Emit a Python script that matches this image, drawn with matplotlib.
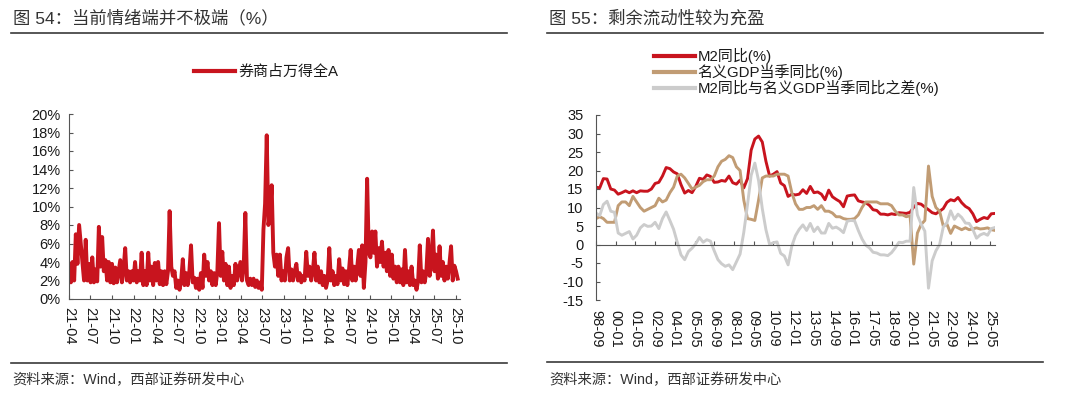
import matplotlib
matplotlib.use("Agg")
import matplotlib.pyplot as plt
import matplotlib.ticker as mticker
from matplotlib.lines import Line2D
import pandas as pd

plt.rcParams['font.family'] = ['Liberation Sans', 'Noto Sans CJK SC']
plt.rcParams['axes.unicode_minus'] = False

# ---------------- data: left chart (weekly, %) ----------------
left_title = "图 54：当前情绪端并不极端（%）"
left_series_name = "券商占万得全A"
left_start = "2021-04-02"
left_values = [
    3.8, 1.8, 4.0, 2.0, 7.0, 3.8, 8.0, 6.0, 4.0, 2.0,
    6.4, 2.0, 3.8, 1.8, 4.5, 1.8, 3.2, 1.9, 7.8, 3.5,
    6.7, 3.0, 4.2, 2.0, 4.0, 1.8, 3.8, 1.7, 3.4, 1.8,
    3.0, 4.2, 1.8, 3.2, 5.5, 2.0, 3.0, 1.8, 3.0, 2.0,
    4.0, 1.8, 3.0, 2.0, 5.0, 1.5, 3.0, 1.5, 5.0, 2.0,
    3.5, 1.5, 3.9, 2.0, 4.0, 1.6, 3.0, 1.5, 3.0, 1.6,
    3.0, 9.5, 3.5, 2.5, 3.0, 1.2, 2.0, 1.0, 2.0, 4.3,
    1.5, 2.8, 1.5, 3.0, 5.8, 1.8, 2.3, 1.2, 2.2, 1.0,
    2.8, 1.2, 4.8, 2.5, 4.0, 2.0, 3.0, 1.5, 2.8, 1.5,
    3.0, 8.2, 2.5, 5.1, 2.0, 3.8, 1.5, 3.5, 1.2, 2.5,
    1.5, 3.8, 2.0, 3.0, 4.0, 2.0, 3.5, 9.3, 2.0, 1.5,
    2.2, 1.5, 2.2, 1.3, 2.0, 1.2, 1.8, 1.0, 7.5, 10.3,
    17.7, 8.0, 9.0, 12.3, 5.0, 3.5, 4.8, 2.5, 4.8, 2.0,
    3.0, 2.0, 4.5, 5.5, 2.0, 3.2, 2.0, 3.0, 3.8, 2.0,
    2.8, 1.8, 2.5, 2.0, 5.1, 2.5, 3.5, 2.0, 3.0, 5.0,
    2.0, 3.5, 1.8, 3.0, 1.5, 2.5, 1.2, 2.0, 5.5, 2.0,
    3.0, 1.5, 2.5, 1.6, 4.3, 2.0, 3.3, 1.6, 3.0, 1.5,
    3.2, 5.3, 2.0, 3.5, 2.0, 3.5, 5.3, 2.5, 5.8, 1.2,
    4.0, 13.0, 5.0, 4.5, 7.3, 5.0, 7.3, 3.5, 5.5, 4.0,
    6.2, 3.5, 5.0, 3.0, 5.3, 2.5, 4.8, 2.2, 3.5, 1.8,
    3.5, 1.8, 3.2, 1.5, 5.3, 1.8, 3.0, 1.5, 3.5, 1.5,
    2.0, 1.0, 2.0, 5.8, 1.8, 3.0, 1.8, 3.0, 6.5, 2.5,
    4.0, 7.4, 3.0, 4.8, 2.2, 5.7, 2.5, 4.0, 2.0, 3.5,
    2.2, 3.8, 5.7, 2.0, 3.6, 3.0, 2.2,
]
left_xticklabels = ["21-04", "21-07", "21-10", "22-01", "22-04", "22-07", "22-10",
                    "23-01", "23-04", "23-07", "23-10", "24-01", "24-04", "24-07",
                    "24-10", "25-01", "25-04", "25-07", "25-10"]
left_yticks = [0, 2, 4, 6, 8, 10, 12, 14, 16, 18, 20]

# ---------------- data: right chart (quarterly, %) ----------------
right_title = "图 55：剩余流动性较为充盈"
right_names = ["M2同比(%)", "名义GDP当季同比(%)", "M2同比与名义GDP当季同比之差(%)"]
right_start = "1998-09-30"
m2_yoy = [
    15.5, 15.3, 17.8, 17.7, 15.0, 14.7, 13.6, 14.0, 14.5, 14.0,
    14.5, 14.0, 14.5, 14.4, 14.4, 15.0, 16.5, 16.8, 18.5, 20.8,
    20.5, 19.6, 19.1, 16.2, 13.9, 14.6, 14.0, 15.7, 17.9, 17.6,
    18.8, 18.4, 16.8, 16.9, 17.3, 17.1, 18.5, 16.7, 16.3, 17.4,
    15.3, 17.8, 25.5, 28.5, 29.3, 27.7, 22.5, 18.5, 19.0, 19.7,
    16.6, 15.9, 13.0, 13.6, 13.4, 13.6, 14.8, 13.8, 15.7, 14.0,
    14.2, 13.6, 12.1, 14.7, 12.9, 12.2, 11.6, 10.2, 13.1, 13.3,
    13.4, 11.8, 11.5, 11.3, 10.6, 9.4, 9.2, 8.2, 8.2, 8.0,
    8.3, 8.1, 8.6, 8.5, 8.4, 8.7, 10.1, 11.1, 10.9, 10.1,
    9.4, 8.6, 8.3, 9.0, 9.7, 11.4, 12.1, 11.8, 12.7, 11.3,
    10.3, 9.7, 8.3, 6.2, 6.8, 7.3, 7.0, 8.3, 8.4,
]
gdp_yoy = [
    7.0, 7.5, 7.0, 6.0, 6.0, 6.0, 10.5, 11.5, 11.5, 10.5,
    13.0, 11.5, 10.0, 9.0, 9.5, 10.0, 10.5, 12.5, 11.5, 12.0,
    14.0, 15.5, 18.5, 19.0, 18.0, 16.5, 15.0, 15.5, 16.0, 17.0,
    17.5, 17.5, 18.5, 21.0, 22.5, 23.0, 24.0, 23.5, 21.0, 20.0,
    12.0, 7.0, 6.8, 6.5, 12.0, 18.0, 18.5, 18.5, 18.5, 19.0,
    19.0, 19.0, 18.5, 14.0, 11.0, 9.5, 9.5, 10.0, 10.0, 10.5,
    9.5, 10.5, 9.0, 9.0, 8.5, 7.5, 7.5, 7.0, 6.8, 6.8,
    7.0, 8.0, 10.0, 11.5, 11.5, 11.5, 11.5, 11.0, 11.0, 11.0,
    10.5, 9.0, 8.0, 8.0, 7.5, 7.8, -5.3, 3.1, 5.4, 6.5,
    21.2, 13.0, 10.0, 9.0, 5.0, 5.5, 3.0, 5.0, 4.5, 4.0,
    4.5, 4.0, 4.2, 4.5, 4.2, 4.3, 4.5, 4.0, 3.8,
]
gap_yoy = [
    8.5, 7.8, 10.8, 11.7, 9.0, 8.7, 3.1, 2.5, 3.0, 3.5,
    1.5, 2.5, 4.5, 5.4, 4.9, 5.0, 6.0, 4.3, 7.0, 8.8,
    6.5, 4.1, 0.6, -2.8, -4.1, -1.9, -1.0, 0.2, 1.9, 0.6,
    1.3, 0.9, -1.7, -4.1, -5.2, -5.9, -5.5, -6.8, -4.7, -2.6,
    3.3, 10.8, 18.7, 22.0, 17.3, 9.7, 4.0, 0.0, 0.5, 0.7,
    -2.4, -3.1, -5.5, -0.4, 2.4, 4.1, 5.3, 3.8, 5.7, 3.5,
    4.7, 3.1, 3.1, 5.7, 4.4, 4.7, 4.1, 3.2, 6.3, 6.5,
    6.4, 3.8, 1.5, -0.2, -0.9, -2.1, -2.3, -2.8, -2.8, -3.0,
    -2.2, -0.9, 0.6, 0.5, 0.9, 0.9, 15.4, 8.0, 5.5, 3.6,
    -11.8, -4.4, -1.7, 0.0, 4.7, 5.9, 9.1, 6.8, 8.2, 7.3,
    5.8, 5.7, 4.1, 1.7, 2.6, 3.0, 2.5, 4.3, 4.6,
]
right_xticklabels = ["98-09", "00-01", "01-05", "02-09", "04-01", "05-05", "06-09",
                     "08-01", "09-05", "10-09", "12-01", "13-05", "14-09", "16-01",
                     "17-05", "18-09", "20-01", "21-05", "22-09", "24-01", "25-05"]
right_yticks = [-15, -10, -5, 0, 5, 10, 15, 20, 25, 30, 35]

source_text = "资料来源：Wind，西部证券研发中心"

# ---------------- styles ----------------
RED = "#C8141E"
TAN = "#C19C74"
GRAY = "#CCCCCC"
TXT = "#1A1A1A"
SPINE = "#555555"

W, H = 1080, 397
fig = plt.figure(figsize=(W / 100, H / 100), dpi=100)


def fx(px):
    return px / W


def fy(py):
    return 1 - py / H


def hline(x0, x1, y, lw=1.2):
    fig.add_artist(Line2D([fx(x0), fx(x1)], [fy(y), fy(y)], transform=fig.transFigure,
                          color="#3A3A3A", lw=lw))


def lab2date(lbl, day_end=False):
    yy = int(lbl[:2]); mm = int(lbl[3:])
    year = 1900 + yy if yy > 50 else 2000 + yy
    d = pd.Timestamp(year=year, month=mm, day=1)
    if day_end:
        d = d + pd.offsets.MonthEnd(0)
    return d


# headers / footers
fig.text(fx(13), fy(18), left_title, fontsize=12.5, color="#333333", va="center", ha="left")
fig.text(fx(549), fy(18), right_title, fontsize=12.5, color="#333333", va="center", ha="left")
hline(11, 507, 33)
hline(547, 1043, 33)
hline(11, 507, 363)
hline(547, 1043, 362)
fig.text(fx(12), fy(380), source_text, fontsize=10.3, color="#333333", va="center", ha="left")
fig.text(fx(549), fy(380), source_text, fontsize=10.3, color="#333333", va="center", ha="left")

# ---------------- left chart ----------------
ax1 = fig.add_axes([fx(69), fy(299), fx(460) - fx(69), fy(114) - fy(299)])
ldates = pd.date_range(left_start, periods=len(left_values), freq="7D")
l1, = ax1.plot(ldates, left_values, color=RED, lw=2.8, solid_joinstyle="round")
ax1.set_ylim(0, 20)
ax1.set_xlim(pd.Timestamp("2021-04-01"), pd.Timestamp("2025-10-20"))
ax1.set_yticks(left_yticks)
ax1.yaxis.set_major_formatter(mticker.FuncFormatter(lambda v, p: f"{v:.0f}%"))
ax1.set_xticks([lab2date(l) for l in left_xticklabels])
ax1.set_xticklabels(left_xticklabels, rotation=-90, va="top", ha="center")

# ---------------- right chart ----------------
ax2 = fig.add_axes([fx(596), fy(300), fx(995) - fx(596), fy(115) - fy(300)])
ax2.spines["bottom"].set_position(("data", 0))
rdates = pd.date_range(right_start, periods=len(m2_yoy), freq="QE")
r1, = ax2.plot(rdates, m2_yoy, color=RED, lw=2.1, solid_joinstyle="round")
r2, = ax2.plot(rdates, gdp_yoy, color=TAN, lw=2.1, solid_joinstyle="round")
r3, = ax2.plot(rdates, gap_yoy, color=GRAY, lw=2.1, solid_joinstyle="round")
ax2.set_ylim(-15, 35)
ax2.set_xlim(pd.Timestamp("1998-09-30"), pd.Timestamp("2025-09-30"))
ax2.set_yticks(right_yticks)
ax2.yaxis.set_major_formatter(mticker.FuncFormatter(lambda v, p: f"{v:.0f}"))
ax2.set_xticks([lab2date(l, True) for l in right_xticklabels])
ax2.set_xticklabels(right_xticklabels, rotation=-90, va="top", ha="center")

for ax in (ax1, ax2):
    ax.set_facecolor("none")
    for s in ("top", "right"):
        ax.spines[s].set_visible(False)
    for s in ("left", "bottom"):
        ax.spines[s].set_color(SPINE)
        ax.spines[s].set_linewidth(0.8)
    ax.tick_params(axis="y", direction="in", length=3, width=0.8, color=SPINE,
                   labelsize=10.5, labelcolor=TXT, pad=6)
    ax.tick_params(axis="x", direction="in", length=3, width=0.8, color=SPINE,
                   labelsize=10.5, labelcolor=TXT)
ax1.tick_params(axis="x", pad=6)
ax2.tick_params(axis="x", pad=47)
ax2.tick_params(axis="y", pad=9)

# legends
fig.legend([l1], [left_series_name], loc="center left",
           bbox_to_anchor=(fx(194), fy(72)), frameon=False, fontsize=10.8,
           handlelength=2.7, handletextpad=0.25, borderpad=0, borderaxespad=0,
           labelcolor=TXT)
for ln in fig.legends[-1].get_lines():
    ln.set_linewidth(3.0)

fig.legend([r1, r2, r3], right_names, loc="center left",
           bbox_to_anchor=(fx(654), fy(72)), frameon=False, fontsize=10.8,
           handlelength=2.7, handletextpad=0.2, borderpad=0, borderaxespad=0,
           labelspacing=0.0, labelcolor=TXT)
for ln in fig.legends[-1].get_lines():
    ln.set_linewidth(3.0)

fig.savefig("out.png", dpi=100)
